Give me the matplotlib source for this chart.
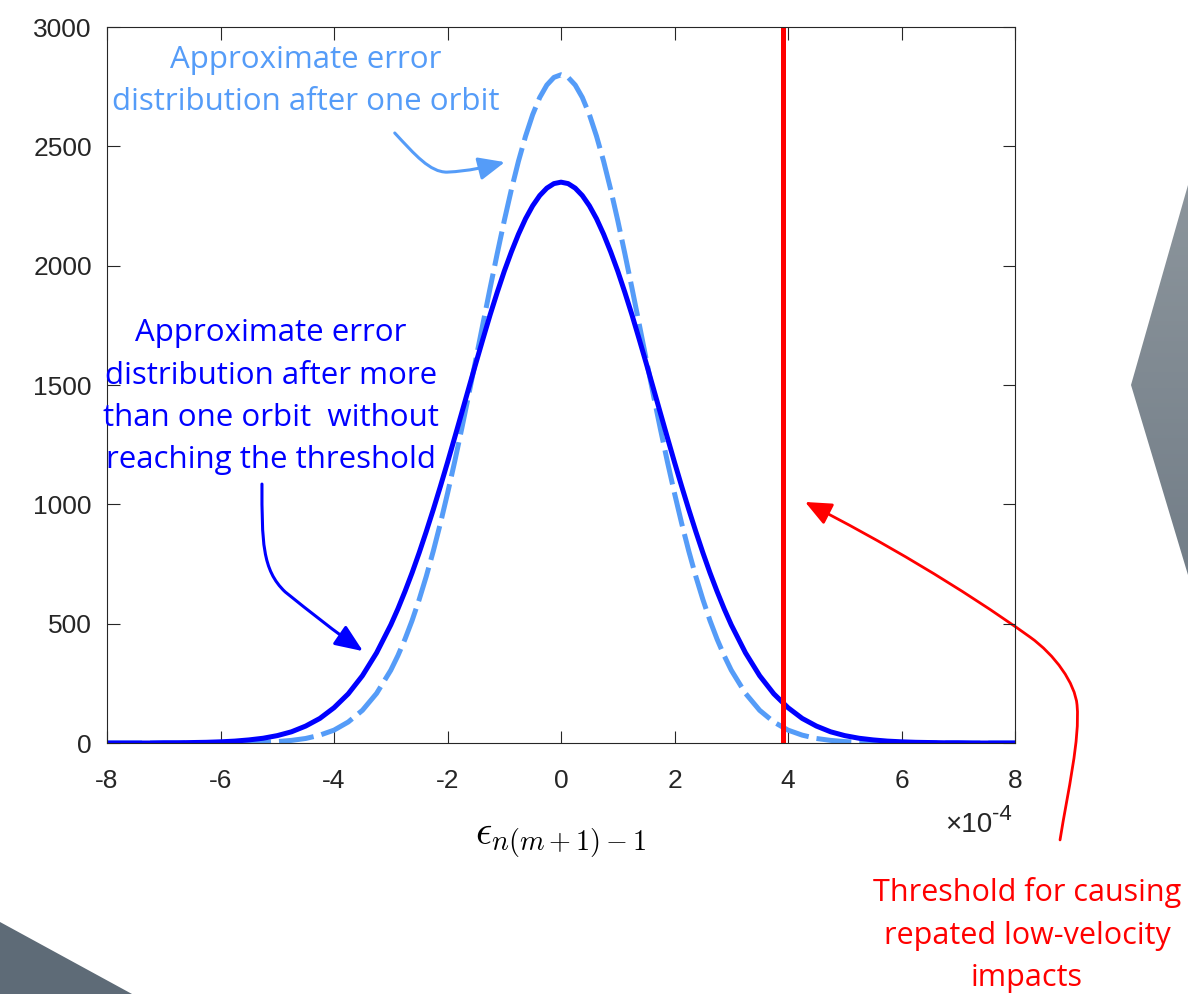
import numpy as np
import matplotlib.pyplot as plt
from matplotlib.path import Path
from matplotlib.patches import FancyArrowPatch, Polygon, ArrowStyle
from matplotlib.colors import LinearSegmentedColormap

plt.rcParams['mathtext.fontset'] = 'cm'
plt.rcParams['axes.unicode_minus'] = False

# error axis, in units of 1e-4 (finer steps around the peak)
eps = [-8.0, -7.75, -7.5, -7.25, -7.0, -6.75, -6.5, -6.25, -6.0, -5.75,
       -5.5, -5.25, -5.0, -4.75, -4.5, -4.25, -4.0, -3.75, -3.5, -3.25,
       -3.0, -2.875, -2.75, -2.625, -2.5, -2.375, -2.25, -2.125, -2.0, -1.875,
       -1.75, -1.625, -1.5, -1.375, -1.25, -1.125, -1.0, -0.875, -0.75, -0.625,
       -0.5, -0.375, -0.25, -0.125, 0.0, 0.125, 0.25, 0.375, 0.5, 0.625,
       0.75, 0.875, 1.0, 1.125, 1.25, 1.375, 1.5, 1.625, 1.75, 1.875,
       2.0, 2.125, 2.25, 2.375, 2.5, 2.625, 2.75, 2.875, 3.0,
       3.25, 3.5, 3.75, 4.0, 4.25, 4.5, 4.75, 5.0, 5.25, 5.5,
       5.75, 6.0, 6.25, 6.5, 6.75, 7.0, 7.25, 7.5, 7.75, 8.0]

# density after several orbits (solid)
pdf_many = [0, 0, 0, 0, 1, 1, 2, 3, 5, 8,
            13, 20, 31, 47, 71, 103, 148, 206, 282, 378,
            495, 562, 635, 713, 797, 886, 979, 1076, 1176, 1279,
            1383, 1488, 1592, 1694, 1794, 1888, 1977, 2058, 2132, 2197,
            2251, 2294, 2325, 2344, 2350, 2344, 2325, 2294, 2251, 2197,
            2132, 2058, 1977, 1888, 1794, 1694, 1592, 1488, 1383, 1279,
            1176, 1076, 979, 886, 797, 713, 635, 562, 495,
            378, 282, 206, 148, 103, 71, 47, 31, 20, 13,
            8, 5, 3, 2, 1, 1, 0, 0, 0, 0]

# density after one orbit (dashed)
pdf_one = [0, 0, 0, 0, 0, 0, 0, 0, 0, 1,
           2, 3, 6, 11, 19, 33, 54, 88, 137, 208,
           305, 366, 435, 513, 601, 698, 805, 921, 1046, 1178,
           1317, 1461, 1609, 1758, 1906, 2050, 2189, 2319, 2438, 2543,
           2633, 2705, 2757, 2789, 2800, 2789, 2757, 2705, 2633, 2543,
           2438, 2319, 2189, 2050, 1906, 1758, 1609, 1461, 1317, 1178,
           1046, 921, 805, 698, 601, 513, 435, 366, 305,
           208, 137, 88, 54, 33, 19, 11, 6, 3, 2,
           1, 0, 0, 0, 0, 0, 0, 0, 0, 0]

threshold = 3.92

light_blue = '#559cf8'
blue = '#0000ff'
red = '#ff0000'
axis_col = '#262626'
tick_font = 'Liberation Sans'

fig = plt.figure(figsize=(11.88, 9.94), dpi=100)

# slide decorations behind the plot
bg = fig.add_axes([0, 0, 1, 1], zorder=-1)
wedge = Polygon([(1188, 185), (1131, 385), (1188, 575)], closed=True,
                facecolor='none', edgecolor='none')
bg.add_patch(wedge)
shade = LinearSegmentedColormap.from_list('shade', ['#8c959c', '#737e88'])
im = bg.imshow(np.linspace(0, 1, 100).reshape(-1, 1), cmap=shade,
               extent=(1131, 1188, 575, 185), aspect='auto')
im.set_clip_path(wedge)
bg.add_patch(Polygon([(0, 922), (132, 994), (0, 994)], closed=True,
                     facecolor='#5e6b77', edgecolor='none'))
bg.set_xlim(0, 1188)
bg.set_ylim(994, 0)
bg.axis('off')

ax = fig.add_axes([0.0901, 0.2525, 0.7643, 0.7203])
ax.plot(eps, pdf_one, color=light_blue, lw=3.6, dashes=(7, 1.6))
ax.plot(eps, pdf_many, color=blue, lw=3.6)
ax.axvline(threshold, color=red, lw=3.6)

ax.set_xlim(-8, 8)
ax.set_ylim(0, 3000)
ax.set_xticks(np.arange(-8, 9, 2))
ax.set_yticks(np.arange(0, 3001, 500))
ax.tick_params(direction='in', length=9, width=0.8, top=True, right=True,
               colors=axis_col, labelsize=19)
ax.tick_params(axis='x', pad=19)
ax.tick_params(axis='y', pad=11)
for lab in ax.get_xticklabels() + ax.get_yticklabels():
    lab.set_family(tick_font)
for s in ax.spines.values():
    s.set_color(axis_col)
    s.set_linewidth(0.8)

ax.set_xlabel(r'$\epsilon_{n(m+1)-1}$', fontsize=29, labelpad=19)

# exponent of the x axis
ax.text(7.6, -372, '\u00d710', ha='right', va='baseline',
        fontsize=20, color=axis_col, family=tick_font)
ax.text(7.6, -322, '-4', ha='left', va='baseline',
        fontsize=16, color=axis_col, family=tick_font)

# annotations
ax.text(-4.5, 2925, 'Approximate error\ndistribution after one orbit',
        ha='center', va='top', fontsize=22.5, color=light_blue,
        family='Open Sans', linespacing=1.52)
ax.text(-5.11, 1780, 'Approximate error\ndistribution after more\n'
        'than one orbit  without\nreaching the threshold',
        ha='center', va='top', fontsize=22.5, color=blue,
        family='Open Sans', linespacing=1.54)
ax.text(8.21, -562, 'Threshold for causing\nrepated low-velocity\nimpacts',
        ha='center', va='top', fontsize=22, color=red,
        family='Open Sans', linespacing=1.55, clip_on=False)

C4 = Path.CURVE4


def curved_arrow(pts, codes, color, lw, hl, hw):
    arr = FancyArrowPatch(path=Path(pts, codes), color=color, lw=lw,
                          arrowstyle=ArrowStyle('-|>', head_length=hl, head_width=hw),
                          mutation_scale=1, clip_on=False)
    ax.add_patch(arr)


curved_arrow([(-2.93, 2556), (-2.57, 2464), (-2.31, 2392), (-2.01, 2392),
              (-1.60, 2397), (-1.34, 2413), (-0.99, 2434)],
             [Path.MOVETO, C4, C4, C4, C4, C4, C4], light_blue, 2.2, 16, 7)
curved_arrow([(-5.27, 1085), (-5.27, 847), (-5.27, 725), (-4.86, 633),
              (-4.42, 549), (-3.98, 465), (-3.49, 385)],
             [Path.MOVETO, C4, C4, C4, C4, C4, C4], blue, 2.2, 17, 7)
curved_arrow([(8.793, -406), (8.934, -197), (9.145, 13), (9.093, 159),
              (9.057, 251), (8.705, 369), (8.264, 444),
              (7.031, 654), (5.621, 850), (4.30, 1010)],
             [Path.MOVETO, C4, C4, C4, C4, C4, C4, C4, C4, C4], red, 2.0, 16, 7)

fig.savefig('out.png', dpi=100)
